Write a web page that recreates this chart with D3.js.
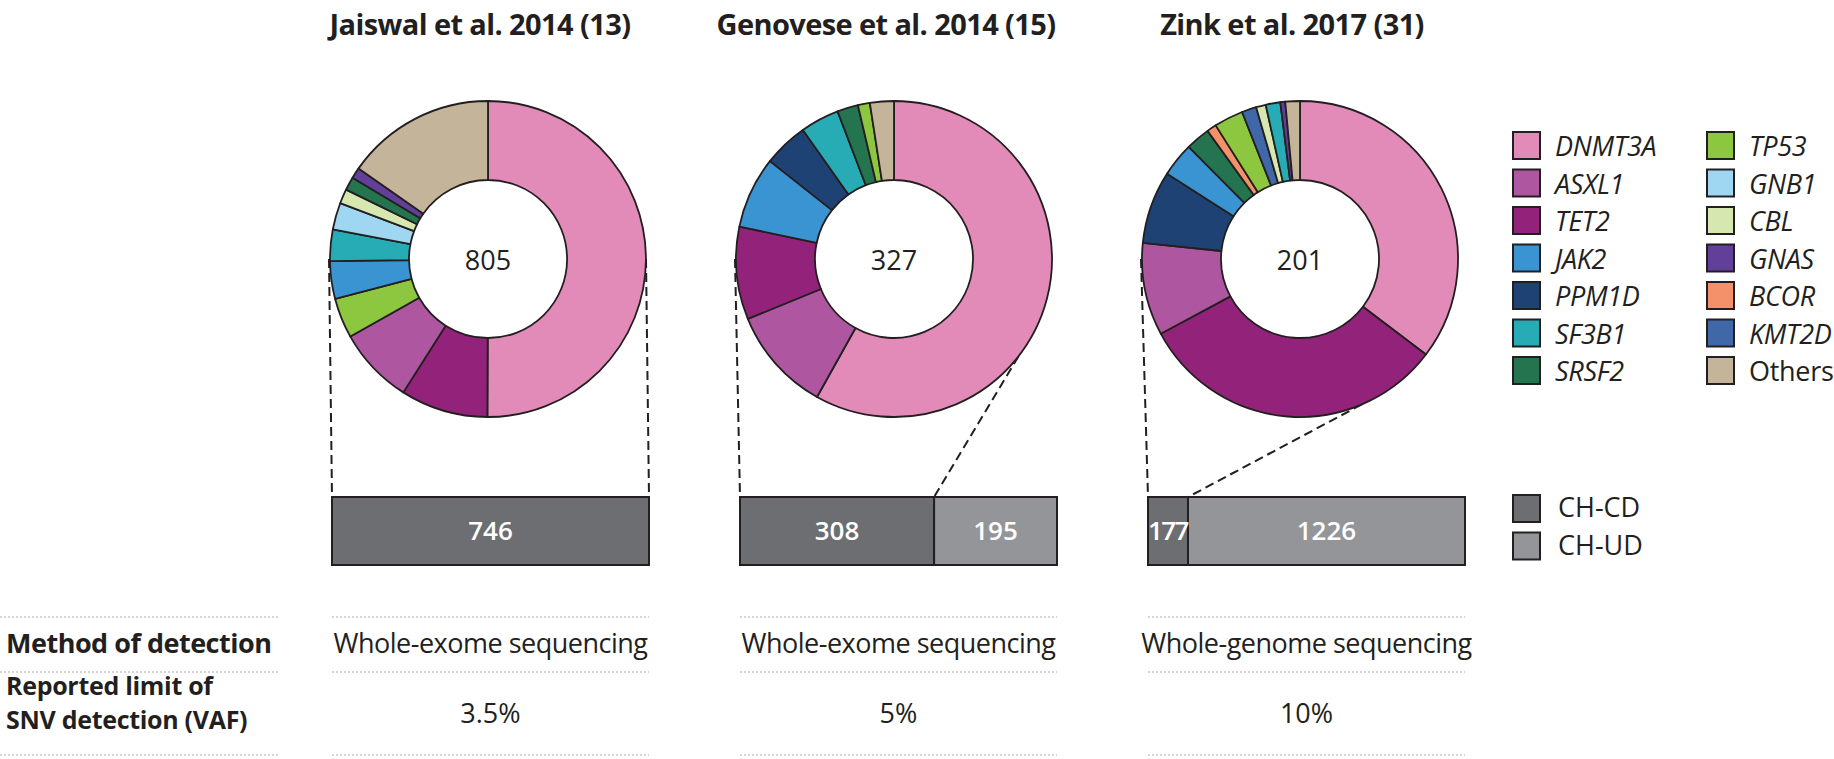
<!DOCTYPE html>
<html>
<head>
<meta charset="utf-8">
<script src="https://cdn.jsdelivr.net/npm/d3@7"></script>
<style>
    html, body { margin: 0; padding: 0; background: #ffffff; }
    svg { display: block; font-family: "Open Sans", "Noto Sans", sans-serif; }
</style>
</head>
<body>
<div class="container"></div>
<script>
// studies shown in the three columns
const studies = ["Jaiswal et al. 2014 (13)", "Genovese et al. 2014 (15)", "Zink et al. 2017 (31)"];
const mutationTotals = [805, 327, 201];

// genes in legend order, with their colours
const genes = ["DNMT3A", "ASXL1", "TET2", "JAK2", "PPM1D", "SF3B1", "SRSF2",
               "TP53", "GNB1", "CBL", "GNAS", "BCOR", "KMT2D", "Others"];
const geneColors = ["#e38bb8", "#ae56a0", "#93237a", "#3b94d2", "#1f4274", "#27abb5", "#23744f",
                    "#8dc63f", "#9fd7f3", "#d6e8b0", "#62409a", "#f4916a", "#4068a8", "#c3b49a"];

// slices of each donut, clockwise from 12 o'clock
const jaiswalGenes = ["DNMT3A", "TET2", "ASXL1", "TP53", "JAK2", "SF3B1", "GNB1", "CBL", "SRSF2", "GNAS", "Others"];
const jaiswalCounts = [403, 72, 63, 33, 31, 26, 22, 12, 11, 9, 123];
const genoveseGenes = ["DNMT3A", "ASXL1", "TET2", "JAK2", "PPM1D", "SF3B1", "SRSF2", "TP53", "Others"];
const genoveseCounts = [190, 35, 31, 24, 15, 13, 7, 4, 8];
const zinkGenes = ["DNMT3A", "TET2", "ASXL1", "PPM1D", "JAK2", "SRSF2", "BCOR", "TP53", "KMT2D", "CBL", "SF3B1", "GNAS", "Others"];
const zinkCounts = [71, 64, 19, 15, 7, 5, 2, 6, 3, 2, 3, 1, 3];

// individuals with CH of candidate drivers / unknown drivers
const groups = ["CH-CD", "CH-UD"];
const groupColors = ["#6d6e72", "#939598"];
const chcdCounts = [746, 308, 177];
const chudCounts = [0, 195, 1226];

// table below the bars
const rowLabels = [["Method of detection"], ["Reported limit of", "SNV detection (VAF)"]];
const methods = ["Whole-exome sequencing", "Whole-exome sequencing", "Whole-genome sequencing"];
const vafLimits = ["3.5%", "5%", "10%"];

// angle (degrees, clockwise from top) where the right zoom line leaves each donut
const zoomAngles = [90, 128, 157];

const w = 1834;
const h = 759;
const ink = "#231f20";

const svg = d3.select(".container")
    .append("svg")
    .attr("width", w)
    .attr("height", h)
    .attr("viewBox", `0 0 ${w} ${h}`);

/* layout scales */

// horizontal centre of every column
const colX = d3.scalePoint()
    .domain(d3.range(studies.length))
    .range([488, 1300]);

const cy = 259;
const outerR = 158;
const innerR = 79;
const barW = 317;
const barTop = 497;
const barH = 68;
const barLeft = (i) => colX(i) - 156 + i * 2;

const colorOf = d3.scaleOrdinal().domain(genes).range(geneColors);

/* titles */
svg.append("g")
    .selectAll("text")
    .data(studies)
    .join("text")
    .attr("x", (d, i) => colX(i) - 8)
    .attr("y", 35)
    .attr("text-anchor", "middle")
    .attr("font-size", 29)
    .attr("font-weight", 700)
    .attr("letter-spacing", -0.6)
    .attr("fill", ink)
    .text((d) => d);

/* donuts */
const slices = [
    jaiswalGenes.map((g, j) => ({ gene: g, value: jaiswalCounts[j] })),
    genoveseGenes.map((g, j) => ({ gene: g, value: genoveseCounts[j] })),
    zinkGenes.map((g, j) => ({ gene: g, value: zinkCounts[j] }))
];

const pie = d3.pie()
    .sort(null)
    .value((d) => d.value);

const arc = d3.arc()
    .innerRadius(innerR)
    .outerRadius(outerR);

// dashed zoom lines go first so the donut covers their ends
const connectors = svg.append("g")
    .attr("fill", "none")
    .attr("stroke", ink)
    .attr("stroke-width", 2)
    .attr("stroke-dasharray", "9,5");

slices.forEach((data, i) => {
    const total = chcdCounts[i] + chudCounts[i];
    const barX = d3.scaleLinear().domain([0, total]).range([barLeft(i), barLeft(i) + barW]);
    const a = zoomAngles[i] * Math.PI / 180;

    connectors.append("line")
        .attr("x1", colX(i) - outerR - 1)
        .attr("y1", cy)
        .attr("x2", barX(0))
        .attr("y2", barTop);

    connectors.append("line")
        .attr("x1", colX(i) + outerR * Math.sin(a))
        .attr("y1", cy - outerR * Math.cos(a))
        .attr("x2", barX(chcdCounts[i]))
        .attr("y2", barTop);

    const g = svg.append("g")
        .attr("transform", `translate(${colX(i)}, ${cy})`);

    g.selectAll("path")
        .data(pie(data))
        .join("path")
        .attr("d", arc)
        .attr("fill", (d) => colorOf(d.data.gene))
        .attr("stroke", ink)
        .attr("stroke-width", 1.8)
        .attr("stroke-linejoin", "round");

    g.append("text")
        .attr("y", 2)
        .attr("dy", "0.35em")
        .attr("text-anchor", "middle")
        .attr("font-size", 27)
        .attr("fill", ink)
        .text(mutationTotals[i]);

    /* stacked bar of individuals */
    const parts = [chcdCounts[i], chudCounts[i]];
    const stack = parts.map((v, k) => ({
        group: k,
        value: v,
        x0: d3.sum(parts.slice(0, k)),
        x1: d3.sum(parts.slice(0, k + 1))
    })).filter((d) => d.value > 0);

    const bar = svg.append("g");

    bar.selectAll("rect")
        .data(stack)
        .join("rect")
        .attr("x", (d) => barX(d.x0))
        .attr("y", barTop)
        .attr("width", (d) => barX(d.x1) - barX(d.x0))
        .attr("height", barH)
        .attr("fill", (d) => groupColors[d.group])
        .attr("stroke", ink)
        .attr("stroke-width", 2);

    bar.selectAll("text")
        .data(stack)
        .join("text")
        .attr("x", (d) => (barX(d.x0) + barX(d.x1)) / 2)
        .attr("y", barTop + barH / 2)
        .attr("dy", "0.35em")
        .attr("text-anchor", "middle")
        .attr("font-size", 26)
        .attr("font-weight", 600)
        .attr("letter-spacing", (d) => (barX(d.x1) - barX(d.x0) < 60 ? -1.6 : 0))
        .attr("fill", "#ffffff")
        .text((d) => d.value);
});

/* gene legend, two columns of seven */
const legend = svg.append("g");
const legendRow = 37.5;

const items = legend.selectAll("g")
    .data(genes)
    .join("g")
    .attr("transform", (d, i) => `translate(${i < 7 ? 1513 : 1707}, ${132 + (i % 7) * legendRow})`);

items.append("rect")
    .attr("width", 27)
    .attr("height", 27)
    .attr("fill", (d) => colorOf(d))
    .attr("stroke", ink)
    .attr("stroke-width", 2);

items.append("text")
    .attr("x", 42)
    .attr("y", 24)
    .attr("font-size", 27)
    .attr("font-style", (d) => (d === "Others" ? "normal" : "italic"))
    .attr("letter-spacing", -0.3)
    .attr("fill", ink)
    .text((d) => d);

/* CH-CD / CH-UD legend */
const groupLegend = svg.append("g")
    .selectAll("g")
    .data(groups)
    .join("g")
    .attr("transform", (d, i) => `translate(1513, ${495 + i * 37.5})`);

groupLegend.append("rect")
    .attr("width", 27)
    .attr("height", 27)
    .attr("fill", (d, i) => groupColors[i])
    .attr("stroke", ink)
    .attr("stroke-width", 2);

groupLegend.append("text")
    .attr("x", 45)
    .attr("y", 22)
    .attr("font-size", 27)
    .attr("fill", ink)
    .text((d) => d);

/* table */
const ruleY = [617, 672, 755];
const table = svg.append("g");

// dotted rules: one segment for the label column and one under each study
const segments = [[0, 280]].concat(d3.range(studies.length).map((i) => [barLeft(i), barLeft(i) + barW]));

ruleY.forEach((y) => {
    table.append("g")
        .selectAll("line")
        .data(segments)
        .join("line")
        .attr("x1", (d) => d[0])
        .attr("x2", (d) => d[1])
        .attr("y1", y)
        .attr("y2", y)
        .attr("stroke", "#a7a9ac")
        .attr("stroke-width", 1.2)
        .attr("stroke-dasharray", "2,2");
});

// row labels in bold
table.append("text")
    .attr("x", 6)
    .attr("y", 653)
    .attr("font-size", 27)
    .attr("font-weight", 700)
    .attr("letter-spacing", -0.5)
    .attr("fill", ink)
    .text(rowLabels[0][0]);

// two-line label, kept as separate texts so the lines stay apart
table.append("g")
    .selectAll("text")
    .data(rowLabels[1])
    .join("text")
    .attr("x", 6)
    .attr("y", (d, i) => 695 + i * 34)
    .attr("font-size", 25)
    .attr("font-weight", 700)
    .attr("letter-spacing", -0.3)
    .attr("fill", ink)
    .text((d) => d);

// cell values
table.append("g")
    .selectAll("text")
    .data(methods)
    .join("text")
    .attr("x", (d, i) => barLeft(i) + barW / 2)
    .attr("y", 653)
    .attr("text-anchor", "middle")
    .attr("font-size", 27)
    .attr("letter-spacing", -0.5)
    .attr("fill", ink)
    .text((d) => d);

table.append("g")
    .selectAll("text")
    .data(vafLimits)
    .join("text")
    .attr("x", (d, i) => barLeft(i) + barW / 2)
    .attr("y", 723)
    .attr("text-anchor", "middle")
    .attr("font-size", 27)
    .attr("fill", ink)
    .text((d) => d);
</script>
</body>
</html>
